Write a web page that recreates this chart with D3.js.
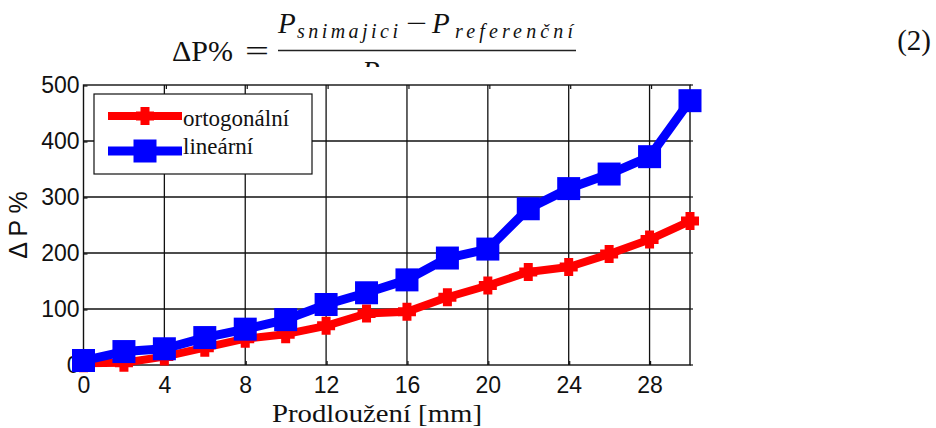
<!DOCTYPE html>
<html>
<head>
<meta charset="utf-8">
<script src="https://cdn.jsdelivr.net/npm/d3@7"></script>
<style>
  html, body { margin: 0; padding: 0; background: #fff; }
  svg { display: block; }
</style>
</head>
<body>
<svg id="chart" width="936" height="428"></svg>
<script>
// Prodloužení [mm] samples and relative power change ΔP % for both sensor layouts
const elongation = [0, 2, 4, 6, 8, 10, 12, 14, 16, 18, 20, 22, 24, 26, 28, 30];
const ortogonalni = [3, 4, 15, 31, 47, 55, 70, 92, 95, 121, 142, 166, 175, 198, 224, 257];
const linearni = [8, 24, 29, 49, 64, 81, 108, 129, 152, 191, 207, 279, 315, 341, 372, 472];
const xTicks = [0, 4, 8, 12, 16, 20, 24, 28];
const yTicks = [0, 100, 200, 300, 400, 500];
const seriesNames = ["ortogonální", "lineární"];

const svg = d3.select("#chart");
const W = 936, H = 428;
const plot = { left: 83.5, right: 690, top: 85, bottom: 365 };

const x = d3.scaleLinear().domain([0, 30]).range([plot.left, plot.right]);
const y = d3.scaleLinear().domain([0, 500]).range([plot.bottom, plot.top]);

const serif = "'Liberation Serif', 'Times New Roman', serif";
const sans = "'Liberation Sans', Arial, sans-serif";

svg.append("rect").attr("width", W).attr("height", H).attr("fill", "#fff");

// ---- equation (2) above the figure ----
const eq = svg.append("g").attr("fill", "#111").attr("font-family", serif);
eq.append("text").attr("x", 172).attr("y", 61).attr("font-size", 30).text("ΔP%");
eq.append("text").attr("x", 245).attr("y", 61).attr("font-size", 30)
  .attr("textLength", 24).attr("lengthAdjust", "spacingAndGlyphs").text("=");
eq.append("line").attr("x1", 278).attr("x2", 576).attr("y1", 50.5).attr("y2", 50.5)
  .attr("stroke", "#222").attr("stroke-width", 1.6);
eq.append("text").attr("x", 278).attr("y", 33).attr("font-size", 29).attr("font-style", "italic").text("P");
eq.append("text").attr("x", 297).attr("y", 38).attr("font-size", 20).attr("font-style", "italic")
  .attr("textLength", 101).attr("lengthAdjust", "spacing").text("snimajici");
eq.append("text").attr("x", 406).attr("y", 33).attr("font-size", 29)
  .attr("textLength", 21).attr("lengthAdjust", "spacingAndGlyphs").text("−");
eq.append("text").attr("x", 432).attr("y", 33).attr("font-size", 29).attr("font-style", "italic").text("P");
eq.append("text").attr("x", 455).attr("y", 38).attr("font-size", 20).attr("font-style", "italic")
  .attr("textLength", 118).attr("lengthAdjust", "spacing").text("referenční");
eq.append("text").attr("x", 362).attr("y", 81).attr("font-size", 29).attr("font-style", "italic").text("P");
eq.append("text").attr("x", 384).attr("y", 85).attr("font-size", 20).attr("font-style", "italic")
  .attr("textLength", 118).attr("lengthAdjust", "spacing").text("referenční");
svg.append("text").attr("x", 931).attr("y", 50).attr("text-anchor", "end")
  .attr("font-family", serif).attr("font-size", 29).attr("fill", "#111").text("(2)");

// figure background sits over the lower part of the equation
svg.append("rect").attr("x", 0).attr("y", 67).attr("width", 760).attr("height", H - 67).attr("fill", "#fff");

// ---- grid ----
const grid = svg.append("g").attr("stroke", "#111").attr("stroke-width", 1.3);
grid.selectAll("line.v").data(xTicks.filter(d => d > 0)).join("line").attr("class", "v")
  .attr("x1", d => x(d)).attr("x2", d => x(d)).attr("y1", plot.top).attr("y2", plot.bottom);
grid.selectAll("line.h").data(yTicks.filter(d => d > 0 && d < 500)).join("line").attr("class", "h")
  .attr("x1", plot.left).attr("x2", plot.right).attr("y1", d => y(d)).attr("y2", d => y(d));

// small tick marks along the frame
const tk = svg.append("g").attr("stroke", "#111").attr("stroke-width", 1.2);
tk.selectAll("line.tt").data(xTicks.filter(d => d > 0)).join("line").attr("class", "tt")
  .attr("x1", d => x(d) + 2).attr("x2", d => x(d) + 2).attr("y1", plot.top).attr("y2", plot.top + 4);
tk.selectAll("line.tr").data(yTicks).join("line").attr("class", "tr")
  .attr("x1", plot.right).attr("x2", plot.right + 3).attr("y1", d => y(d)).attr("y2", d => y(d));
tk.selectAll("line.tb").data(xTicks.filter(d => d > 0)).join("line").attr("class", "tb")
  .attr("x1", d => x(d) + 1).attr("x2", d => x(d) + 1).attr("y1", plot.bottom).attr("y2", plot.bottom - 4);
tk.selectAll("line.tl").data(yTicks).join("line").attr("class", "tl")
  .attr("x1", plot.left).attr("x2", plot.left + 4).attr("y1", d => y(d) + 1).attr("y2", d => y(d) + 1);

// frame
svg.append("rect").attr("x", plot.left).attr("y", plot.top)
  .attr("width", plot.right - plot.left).attr("height", plot.bottom - plot.top)
  .attr("fill", "none").attr("stroke", "#111").attr("stroke-width", 1.4);

// ---- axes labels ----
const xAxis = d3.axisBottom(x).tickValues(xTicks).tickSize(0).tickPadding(12);
const gx = svg.append("g").attr("transform", `translate(0,${plot.bottom})`).call(xAxis);
gx.select(".domain").remove();
gx.selectAll("text").attr("font-family", sans).attr("font-size", 23).attr("fill", "#111")
  .attr("dy", "0.71em");

const yAxis = d3.axisLeft(y).tickValues(yTicks).tickSize(0).tickPadding(4);
const gy = svg.append("g").attr("transform", `translate(${plot.left},0)`).call(yAxis);
gy.select(".domain").remove();
gy.selectAll("text").attr("font-family", sans).attr("font-size", 23).attr("fill", "#111");

svg.append("text").attr("transform", "translate(27,225) rotate(-90)")
  .attr("text-anchor", "middle").attr("font-family", sans).attr("font-size", 25)
  .attr("fill", "#111").text("Δ P %");

svg.append("text").attr("x", 272).attr("y", 422)
  .attr("font-family", serif).attr("font-size", 26).attr("fill", "#111")
  .attr("textLength", 210).attr("lengthAdjust", "spacingAndGlyphs").text("Prodloužení [mm]");

// ---- series ----
const plusSymbol = {
  draw(ctx, size) {
    const r = Math.sqrt(size) / 2, w = r * 0.5;
    ctx.moveTo(-w, -r); ctx.lineTo(w, -r); ctx.lineTo(w, -w); ctx.lineTo(r, -w);
    ctx.lineTo(r, w); ctx.lineTo(w, w); ctx.lineTo(w, r); ctx.lineTo(-w, r);
    ctx.lineTo(-w, w); ctx.lineTo(-r, w); ctx.lineTo(-r, -w); ctx.lineTo(-w, -w);
    ctx.closePath();
  }
};

const series = [
  { name: seriesNames[0], values: ortogonalni, color: "#ff0000", width: 8,
    symbol: d3.symbol().type(plusSymbol).size(18 * 18) },
  { name: seriesNames[1], values: linearni, color: "#0000ff", width: 9,
    symbol: d3.symbol().type(d3.symbolSquare).size(23 * 23) }
];

const line = d3.line().x(d => x(d[0])).y(d => y(d[1]));

series.forEach(s => {
  const pts = elongation.map((e, i) => [e, s.values[i]]);
  const g = svg.append("g");
  g.append("path").attr("d", line(pts)).attr("fill", "none")
    .attr("stroke", s.color).attr("stroke-width", s.width).attr("stroke-linejoin", "round");
  g.selectAll("path.m").data(pts).join("path").attr("class", "m")
    .attr("transform", d => `translate(${x(d[0])},${y(d[1])})`)
    .attr("d", s.symbol()).attr("fill", s.color);
});

// ---- legend ----
const lg = svg.append("g");
lg.append("rect").attr("x", 94).attr("y", 94).attr("width", 218).attr("height", 80)
  .attr("fill", "#fff").attr("stroke", "#111").attr("stroke-width", 1.2);
const legendRows = [{ cy: 116, ty: 126 }, { cy: 151, ty: 154 }];
series.forEach((s, i) => {
  const r = legendRows[i];
  lg.append("line").attr("x1", 108).attr("x2", 182).attr("y1", r.cy).attr("y2", r.cy)
    .attr("stroke", s.color).attr("stroke-width", s.width);
  lg.append("path").attr("transform", `translate(145,${r.cy})`).attr("d", s.symbol()).attr("fill", s.color);
  lg.append("text").attr("x", 183).attr("y", r.ty).attr("font-family", serif)
    .attr("font-size", 23).attr("fill", "#111").text(s.name);
});
</script>
</body>
</html>
